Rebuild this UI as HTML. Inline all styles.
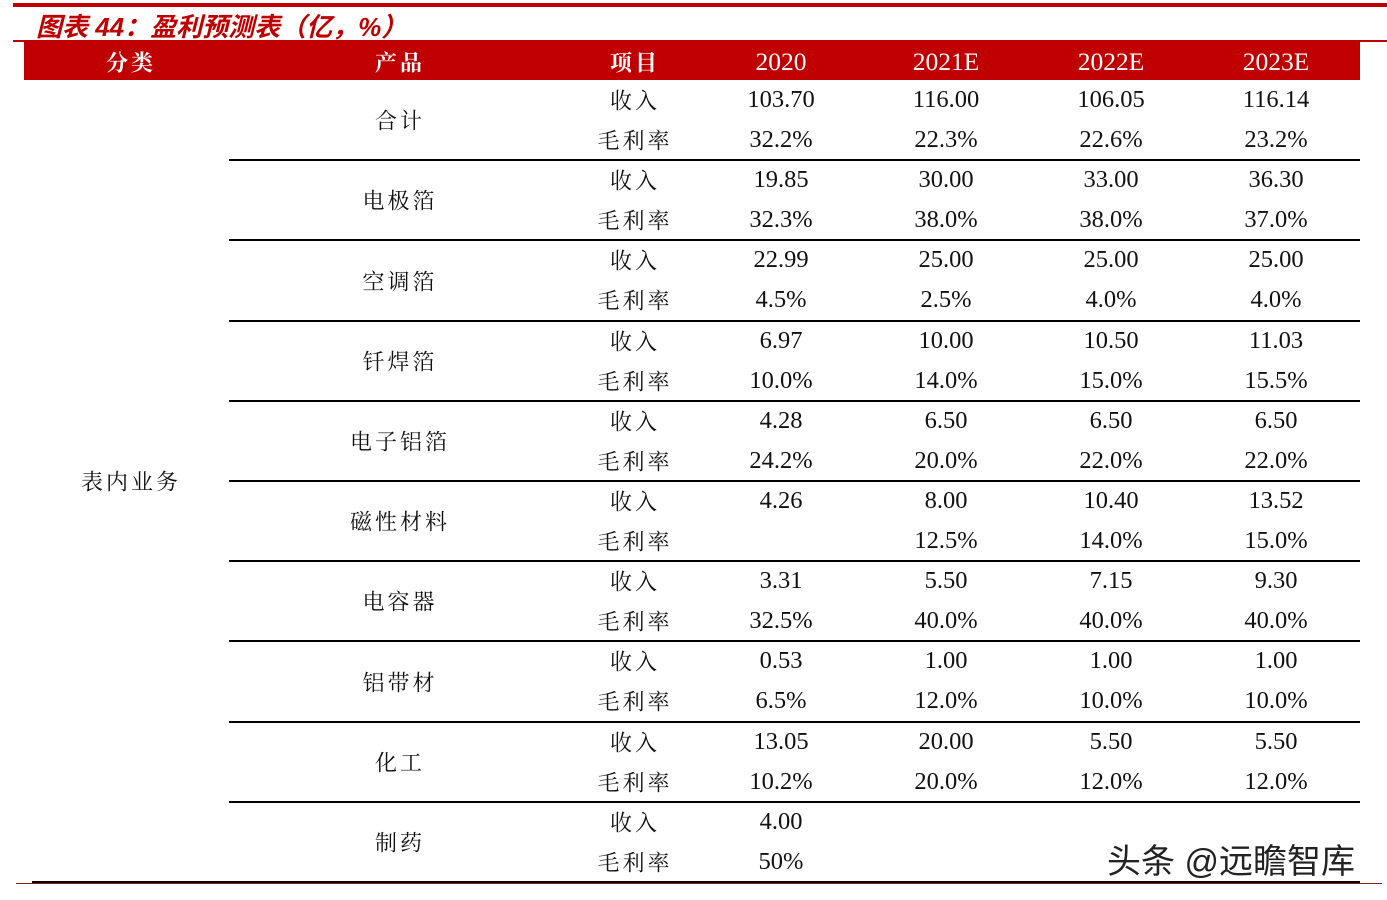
<!DOCTYPE html>
<html><head><meta charset="utf-8">
<style>
body{margin:0;width:1387px;height:900px;background:#fff;position:relative;overflow:hidden;font-family:"Liberation Serif","Noto Serif CJK SC",serif;}
.a{position:absolute;}
.t{position:absolute;transform:translate(-50%,-50%);white-space:nowrap;font-size:24.5px;color:#111;}
.h{color:#fff;font-weight:bold;font-size:22px;}
.cj{font-family:"Liberation Serif","Noto Serif CJK SC",serif;font-size:22px;letter-spacing:3px;}
</style></head><body>
<div class="a" style="left:13px;top:3px;width:1374px;height:4px;background:#c00000"></div>
<div class="a" style="left:36px;top:7px;font-size:26px;font-weight:bold;font-style:italic;color:#c00000;font-family:'Liberation Sans','Noto Sans CJK SC',sans-serif">图表 44：盈利预测表（亿，%）</div>
<div class="a" style="left:13px;top:40px;width:1374px;height:2px;background:#c00000"></div>
<div class="a" style="left:24px;top:42px;width:1336px;height:38px;background:#c00000"></div>
<div class="t h cj" style="left:131px;top:62px">分类</div>
<div class="t h cj" style="left:400px;top:62px">产品</div>
<div class="t h cj" style="left:635px;top:62px">项目</div>
<div class="t h" style="left:781px;top:62px;font-weight:normal;font-size:25.5px">2020</div>
<div class="t h" style="left:946px;top:62px;font-weight:normal;font-size:25.5px">2021E</div>
<div class="t h" style="left:1111px;top:62px;font-weight:normal;font-size:25.5px">2022E</div>
<div class="t h" style="left:1276px;top:62px;font-weight:normal;font-size:25.5px">2023E</div>
<div class="t cj" style="left:131px;top:481px">表内业务</div>
<div class="a" style="left:32px;top:881px;width:1328px;height:2px;background:#000"></div>
<div class="a" style="left:16px;top:883px;width:1366px;height:1px;background:#8b1a1a"></div>
<div class="a" style="left:1107px;top:834px;font-size:34px;color:#222;font-family:'Liberation Sans','Noto Sans CJK SC',sans-serif">头条 @远瞻智库</div>
<script>
const products=["合计","电极箔","空调箔","钎焊箔","电子铝箔","磁性材料","电容器","铝带材","化工","制药"];
const revenue=[["103.70","116.00","106.05","116.14"],["19.85","30.00","33.00","36.30"],["22.99","25.00","25.00","25.00"],["6.97","10.00","10.50","11.03"],["4.28","6.50","6.50","6.50"],["4.26","8.00","10.40","13.52"],["3.31","5.50","7.15","9.30"],["0.53","1.00","1.00","1.00"],["13.05","20.00","5.50","5.50"],["4.00","","",""]];
const margin=[["32.2%","22.3%","22.6%","23.2%"],["32.3%","38.0%","38.0%","37.0%"],["4.5%","2.5%","4.0%","4.0%"],["10.0%","14.0%","15.0%","15.5%"],["24.2%","20.0%","22.0%","22.0%"],["","12.5%","14.0%","15.0%"],["32.5%","40.0%","40.0%","40.0%"],["6.5%","12.0%","10.0%","10.0%"],["10.2%","20.0%","12.0%","12.0%"],["50%","","",""]];
const colX=[781,946,1111,1276];
const top0=80,rowH=80.2;
function add(cls,txt,x,y){const d=document.createElement('div');d.className=cls;d.textContent=txt;d.style.left=x+'px';d.style.top=y+'px';document.body.appendChild(d);return d;}
products.forEach((p,i)=>{
 const y=top0+i*rowH;
 const pl=add('t cj',p,400,y+rowH/2);
 
 
 const r=add('t cj','收入',635,y+20);
 
 
 const m=add('t cj','毛利率',635,y+60);
 
 
 colX.forEach((x,j)=>{
  const a=add('t',revenue[i][j],x,y+20);
  
  
  const b=add('t',margin[i][j],x,y+60);
  
  
 });
 if(i<products.length-1){
  const l=document.createElement('div');l.className='a';
  l.style.cssText='left:229px;width:1131px;height:2px;background:#000;top:'+(y+rowH-1)+'px';
  
  
  document.body.appendChild(l);
 }
});
</script>
</body></html>
